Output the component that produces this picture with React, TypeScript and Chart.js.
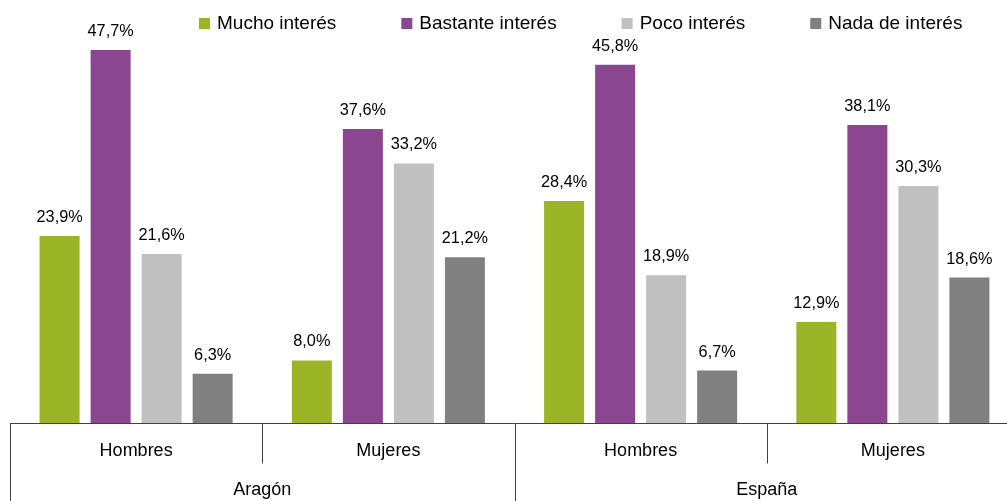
import React, { useEffect, useRef } from "react";
import { Chart, registerables } from "chart.js";

Chart.register(...registerables);

const categories = ["Hombres", "Mujeres", "Hombres", "Mujeres"];
const groups = ["Aragón", "España"];
const seriesNames = ["Mucho interés", "Bastante interés", "Poco interés", "Nada de interés"];
const mucho = [23.9, 8.0, 28.4, 12.9];
const bastante = [47.7, 37.6, 45.8, 38.1];
const poco = [21.6, 33.2, 18.9, 30.3];
const nada = [6.3, 21.2, 6.7, 18.6];
const colors = ["#9cb526", "#8a4790", "#c0c0c0", "#808080"];

const FONT = "'Liberation Sans', Arial, sans-serif";

const customPlugin = {
  id: "custom",
  afterDatasetsDraw(chart: any) {
    const ctx = chart.ctx;
    ctx.save();
    ctx.fillStyle = "#000";
    ctx.font = `16.3px ${FONT}`;
    ctx.textAlign = "center";
    ctx.textBaseline = "alphabetic";
    chart.data.datasets.forEach((ds: any, di: number) => {
      const meta = chart.getDatasetMeta(di);
      meta.data.forEach((bar: any, i: number) => {
        const v = ds.data[i] as number;
        const txt = v.toFixed(1).replace(".", ",") + "%";
        ctx.fillText(txt, bar.x, bar.y - 14);
      });
    });
    ctx.restore();
  },
  afterDraw(chart: any) {
    const ctx = chart.ctx;
    const area = chart.chartArea;
    const xs = chart.scales.x;
    const n = categories.length;
    const catW = (area.right - area.left) / n;
    const base = Math.round(area.bottom) + 0.5;
    ctx.save();
    ctx.strokeStyle = "#404040";
    ctx.lineWidth = 1;
    // axis line
    ctx.beginPath();
    ctx.moveTo(area.left, base);
    ctx.lineTo(area.right, base);
    ctx.stroke();
    // separators
    for (let i = 0; i <= n; i++) {
      const x = Math.round(area.left + i * catW) + 0.5;
      const full = i % 2 === 0;
      ctx.beginPath();
      ctx.moveTo(x, base);
      ctx.lineTo(x, full ? chart.height : base + 40);
      ctx.stroke();
    }
    // category labels
    ctx.fillStyle = "#000";
    ctx.font = `18px ${FONT}`;
    ctx.textAlign = "center";
    ctx.textBaseline = "middle";
    categories.forEach((c, i) => {
      ctx.fillText(c, xs.getPixelForValue(i), base + 28);
    });
    groups.forEach((g, gi) => {
      const x = (xs.getPixelForValue(gi * 2) + xs.getPixelForValue(gi * 2 + 1)) / 2;
      ctx.fillText(g, x, base + 67);
    });
    // legend
    ctx.font = `19px ${FONT}`;
    ctx.textAlign = "left";
    let lx = 199;
    seriesNames.forEach((name, i) => {
      ctx.fillStyle = colors[i];
      ctx.fillRect(lx, 18, 11, 11);
      ctx.fillStyle = "#000";
      ctx.fillText(name, lx + 18, 23.5);
      lx += 18 + ctx.measureText(name).width + 65;
    });
    ctx.restore();
  },
};

export default function App() {
  const ref = useRef<HTMLCanvasElement | null>(null);
  useEffect(() => {
    if (!ref.current) return;
    const series = [mucho, bastante, poco, nada];
    const chart = new Chart(ref.current, {
      type: "bar",
      data: {
        labels: categories,
        datasets: series.map((d, i) => ({
          label: seriesNames[i],
          data: d,
          backgroundColor: colors[i],
          borderWidth: 0,
          categoryPercentage: 0.809,
          barPercentage: 0.784,
        })),
      },
      options: {
        responsive: false,
        animation: false,
        devicePixelRatio: 1,
        layout: { padding: { left: 10, right: 11, top: 32, bottom: 78 } },
        plugins: { legend: { display: false }, tooltip: { enabled: false } },
        scales: {
          x: { display: false, grid: { display: false } },
          y: { display: false, min: 0, max: 50 },
        },
      },
      plugins: [customPlugin],
    });
    return () => chart.destroy();
  }, []);
  return (
    <div style={{ position: "fixed", left: 0, top: 0, width: 1007, height: 501, overflow: "hidden", background: "#fff" }}>
      <canvas ref={ref} width={1030} height={501} style={{ display: "block", width: 1030, height: 501 }} />
    </div>
  );
}
